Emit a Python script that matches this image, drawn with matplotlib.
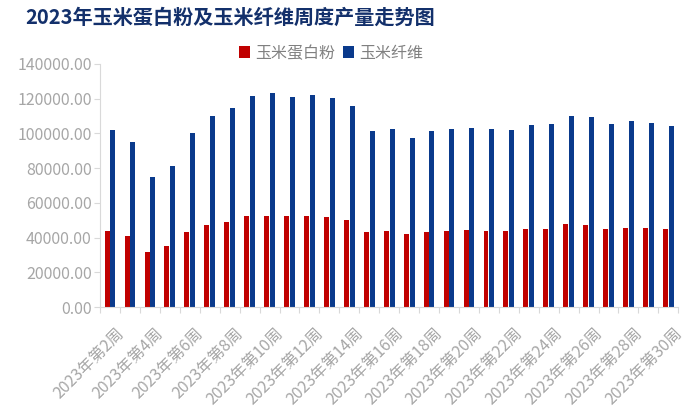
import numpy as np
import matplotlib
matplotlib.use("Agg")
from matplotlib import pyplot as plt
from matplotlib.ticker import FuncFormatter
from matplotlib.transforms import ScaledTranslation

plt.rcParams['font.family'] = ['Noto Sans CJK SC', 'DejaVu Sans']

# data (weeks 2..30 of 2023)
weeks = list(range(2, 31))
week_labels = ['2023年第%d周' % w for w in weeks]
gluten = [43900, 40800, 32000, 35100, 43000, 47000, 49100, 52200, 52700, 52200,
          52700, 51600, 50200, 43300, 43900, 42000, 43300, 43900, 44500, 43900,
          43900, 44900, 44900, 47600, 47000, 44900, 45800, 45500, 44900]
fiber = [102000, 95300, 74800, 81500, 100100, 109900, 114500, 121800, 123300, 121000,
         122200, 120200, 116000, 101100, 102600, 97400, 101100, 102600, 103200, 102600,
         102000, 104700, 105300, 110300, 109300, 105300, 107200, 106200, 104100]

red = '#C00000'
blue = '#0A3A8C'
grey = '#A6A6A6'
axis_grey = '#D9D9D9'

fig = plt.figure(figsize=(7, 4.15), dpi=100)
ax = fig.add_axes([0.143, 0.260, 0.826, 0.586])

x = np.arange(len(weeks))
w = 0.25
ax.bar(x - 0.145, gluten, w, color=red, label='玉米蛋白粉')
ax.bar(x + 0.145, fiber, w, color=blue, label='玉米纤维')

ax.set_xlim(-0.5, len(weeks) - 0.5)
ax.set_ylim(0, 140000)
ax.set_yticks(np.arange(0, 140001, 20000))
ax.yaxis.set_major_formatter(FuncFormatter(lambda v, p: '%.2f' % v))
ax.tick_params(axis='y', colors=axis_grey, labelcolor=grey, labelsize=11.5,
               length=4, width=0.8, pad=2)

# labels on every other week, ticks at every category boundary
ax.set_xticks(x[::2])
ax.set_xticklabels(week_labels[::2], rotation=45, ha='right', va='center',
                   rotation_mode='anchor', fontsize=11.5, color=grey)
ax.tick_params(axis='x', which='major', length=0, pad=17)
shift = ScaledTranslation(8 / 72, 0, fig.dpi_scale_trans)
for lab in ax.get_xticklabels():
    lab.set_transform(lab.get_transform() + shift)
ax.set_xticks(np.arange(-0.5, len(weeks), 1), minor=True)
ax.tick_params(axis='x', which='minor', length=4, width=0.8, colors=axis_grey)

for s in ['top', 'right']:
    ax.spines[s].set_visible(False)
for s in ['left', 'bottom']:
    ax.spines[s].set_color(axis_grey)
    ax.spines[s].set_linewidth(0.8)

fig.text(0.036, 0.958, '2023年玉米蛋白粉及玉米纤维周度产量走势图', fontsize=14.5,
         fontweight='bold', color='#13306B', va='center', ha='left')

leg = fig.legend(loc='center', bbox_to_anchor=(0.473, 0.872), ncol=2, frameon=False,
                 fontsize=11.5, handlelength=0.7, handleheight=0.7,
                 handletextpad=0.3, columnspacing=0.5)
for t in leg.get_texts():
    t.set_color('#808080')

fig.savefig('out.png', dpi=100)
